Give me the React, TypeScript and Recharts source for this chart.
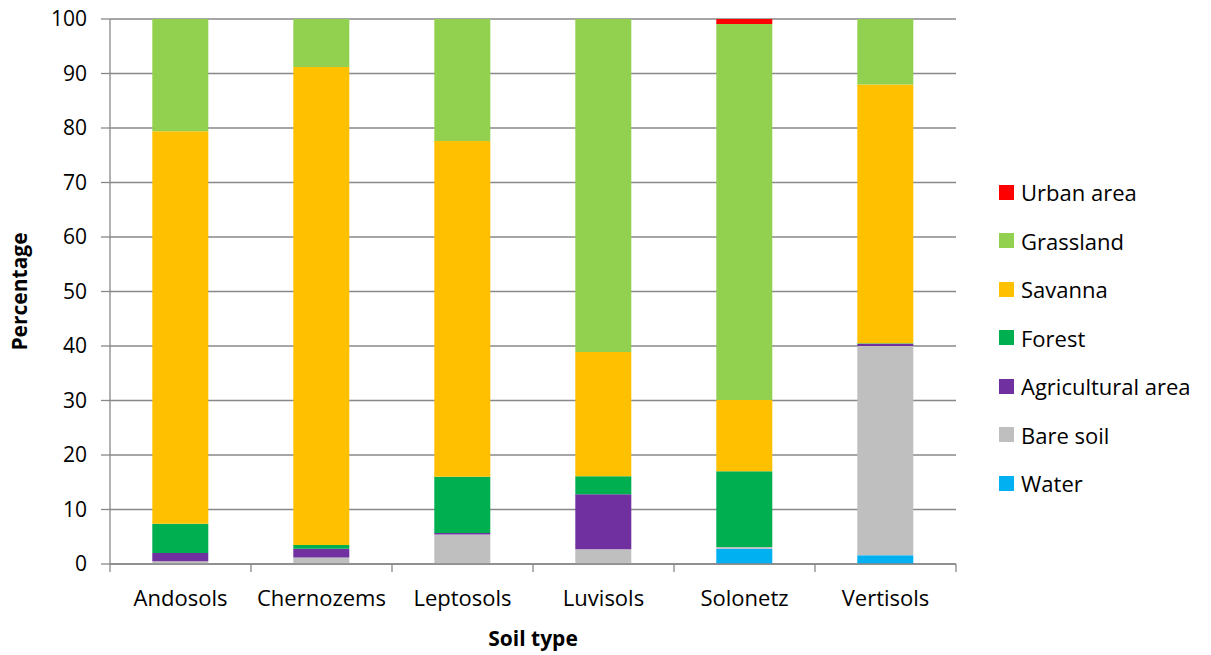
import React from "react";
import {
  BarChart,
  Bar,
  CartesianGrid,
  XAxis,
  YAxis,
  Legend,
} from "recharts";

const soilTypes = ["Andosols", "Chernozems", "Leptosols", "Luvisols", "Solonetz", "Vertisols"];

const water = [0, 0, 0, 0, 2.8, 1.6];
const bareSoil = [0.5, 1.2, 5.4, 2.7, 0.3, 38.4];
const agricultural = [1.5, 1.6, 0.3, 10.1, 0, 0.4];
const forest = [5.4, 0.7, 10.3, 3.3, 13.9, 0.1];
const savanna = [72.0, 87.7, 61.6, 22.8, 13.1, 47.5];
const grassland = [20.6, 8.8, 22.4, 61.1, 69.0, 12.0];
const urban = [0, 0, 0, 0, 0.9, 0];

const yTicks = [0, 10, 20, 30, 40, 50, 60, 70, 80, 90, 100];

// stacking order, bottom to top
const series = [
  { key: "water", name: "Water", color: "#00B0F0", values: water },
  { key: "bare", name: "Bare soil", color: "#BFBFBF", values: bareSoil },
  { key: "agri", name: "Agricultural area", color: "#7030A0", values: agricultural },
  { key: "forest", name: "Forest", color: "#00B050", values: forest },
  { key: "savanna", name: "Savanna", color: "#FFC000", values: savanna },
  { key: "grass", name: "Grassland", color: "#92D050", values: grassland },
  { key: "urban", name: "Urban area", color: "#FF0000", values: urban },
];

const data = soilTypes.map((soil, i) => {
  const row: Record<string, string | number> = { soil };
  series.forEach((s) => {
    row[s.key] = s.values[i];
  });
  return row;
});

const FONT = "'Open Sans', sans-serif";
const AXIS = "#888888";

const WIDTH = 1211;
const HEIGHT = 655;
const MARGIN = { top: 19, right: 255, bottom: 9, left: 8 };
const Y_AXIS_WIDTH = 102;
const PLOT_WIDTH = WIDTH - MARGIN.left - MARGIN.right - Y_AXIS_WIDTH;
const BAND = PLOT_WIDTH / soilTypes.length;

// category label plus the Excel-style tick marks on the category boundaries
function SoilTick(props: any) {
  const { x, y, payload, index } = props;
  return (
    <g>
      <line x1={x - BAND / 2} x2={x - BAND / 2} y1={y} y2={y + 8} stroke={AXIS} strokeWidth={1.3} />
      {index === soilTypes.length - 1 && (
        <line x1={x + BAND / 2} x2={x + BAND / 2} y1={y} y2={y + 8} stroke={AXIS} strokeWidth={1.3} />
      )}
      <text
        x={x}
        y={y + 42}
        textAnchor="middle"
        fill="#000"
        fontSize={22}
        fontFamily={FONT}
      >
        {payload.value}
      </text>
    </g>
  );
}

function LegendList() {
  const items = [...series].reverse();
  return (
    <div style={{ fontFamily: FONT, fontSize: 22, color: "#000" }}>
      {items.map((s) => (
        <div
          key={s.key}
          style={{ display: "flex", alignItems: "center", height: 48.5 }}
        >
          <span
            style={{
              width: 15,
              height: 15,
              background: s.color,
              marginRight: 7,
              display: "inline-block",
            }}
          />
          {s.name}
        </div>
      ))}
    </div>
  );
}

export default function App() {
  return (
    <div style={{ position: "absolute", left: 0, top: 0, background: "#fff" }}>
      <BarChart
        width={WIDTH}
        height={HEIGHT}
        data={data}
        margin={MARGIN}
        barCategoryGap="30%"
      >
        <CartesianGrid vertical={false} stroke={AXIS} strokeWidth={1.3} />
        <XAxis
          dataKey="soil"
          height={82}
          tickLine={false}
          tickSize={0}
          tickMargin={0}
          axisLine={{ stroke: AXIS, strokeWidth: 1.3 }}
          tick={<SoilTick />}
          interval={0}
          label={{
            value: "Soil type",
            position: "insideBottom",
            offset: 0,
            style: { fontFamily: FONT, fontSize: 21, fontWeight: 700, fill: "#000" },
          }}
        />
        <YAxis
          domain={[0, 100]}
          ticks={yTicks}
          width={Y_AXIS_WIDTH}
          interval={0}
          axisLine={{ stroke: AXIS, strokeWidth: 1.3 }}
          tickLine={{ stroke: AXIS, strokeWidth: 1.3 }}
          tickSize={9}
          tickMargin={14}
          tick={{ fill: "#000", fontSize: 21, fontFamily: FONT }}
          label={{
            value: "Percentage",
            angle: -90,
            position: "insideLeft",
            offset: 12,
            style: {
              fontFamily: FONT,
              fontSize: 21,
              fontWeight: 700,
              fill: "#000",
              textAnchor: "middle",
            },
          }}
        />
        <Legend
          layout="horizontal"
          align="center"
          verticalAlign="middle"
          content={() => <LegendList />}
          wrapperStyle={{ left: 999, top: 168, width: 212 }}
        />
        {series.map((s) => (
          <Bar
            key={s.key}
            dataKey={s.key}
            name={s.name}
            stackId="land"
            fill={s.color}
            isAnimationActive={false}
          />
        ))}
      </BarChart>
    </div>
  );
}
